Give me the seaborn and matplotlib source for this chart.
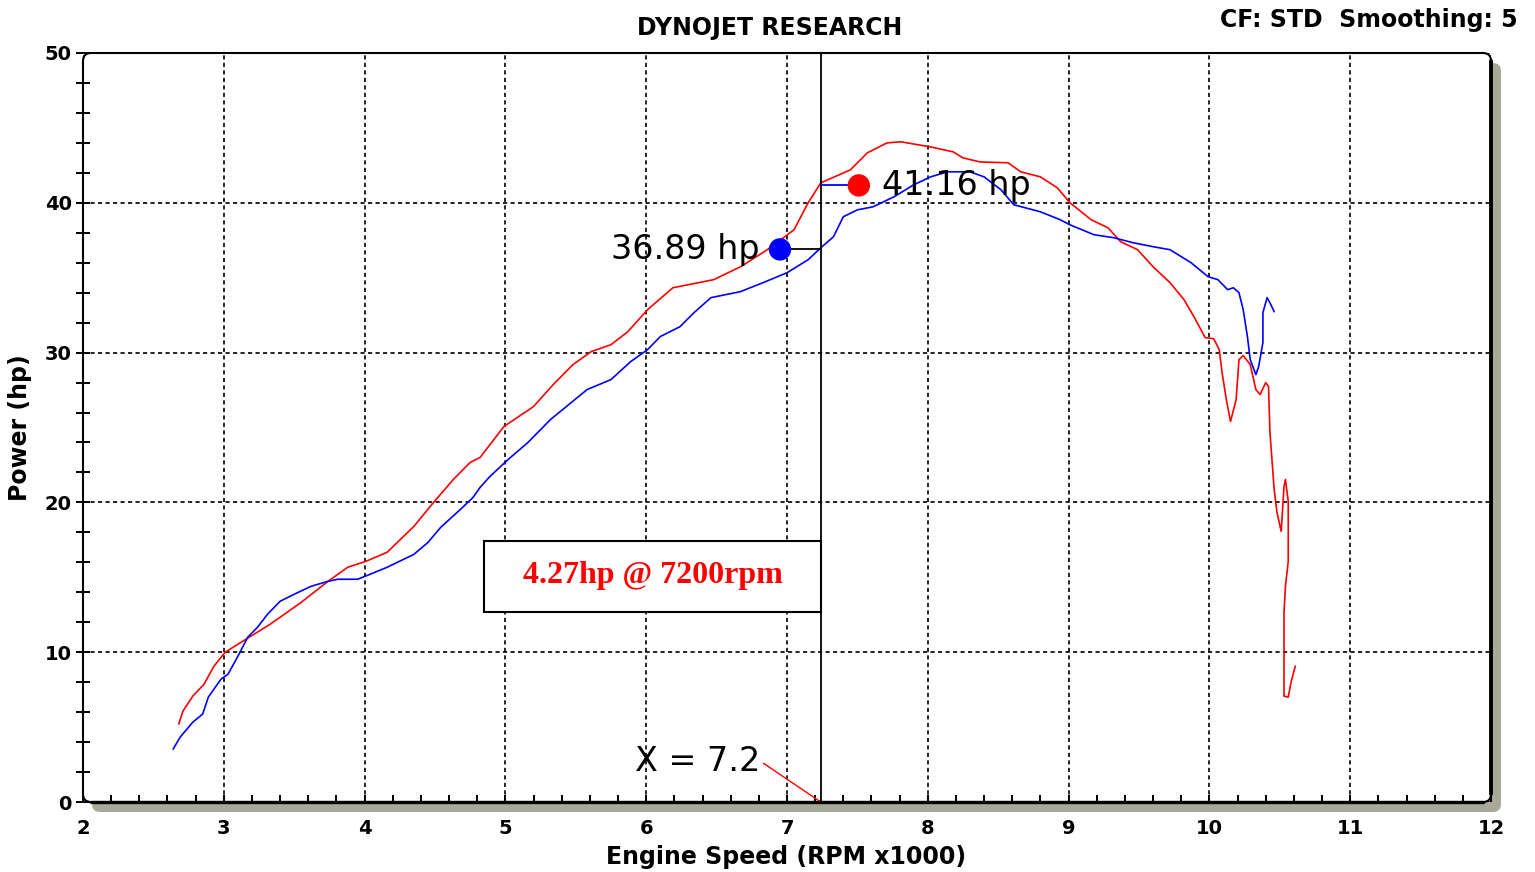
import pandas as pd
import matplotlib
matplotlib.use("Agg")
import matplotlib.pyplot as plt
import seaborn as sns
from matplotlib.patches import FancyBboxPatch, Rectangle
from matplotlib.lines import Line2D
from matplotlib.ticker import MultipleLocator

# Run 1 (red) - engine speed x1000 and power in hp
red_rpm = [2.68, 2.71, 2.78, 2.86, 2.93, 3.01, 3.18, 3.33, 3.55, 3.74, 3.88, 4.01, 4.16, 4.35,
           4.49, 4.63, 4.75, 4.82, 4.99, 5.20, 5.34, 5.48, 5.61, 5.75, 5.87, 6.01, 6.19, 6.48,
           6.67, 6.86, 7.05, 7.15, 7.24, 7.45, 7.57, 7.71, 7.81, 8.02, 8.18, 8.25, 8.37, 8.57,
           8.66, 8.80, 8.92, 9.01, 9.16, 9.28, 9.37, 9.49, 9.60, 9.72, 9.82, 9.89, 9.94, 9.97,
           10.03, 10.07, 10.09, 10.12, 10.15, 10.19, 10.21, 10.24, 10.29, 10.33, 10.36, 10.40,
           10.42, 10.43, 10.46, 10.48, 10.51, 10.53, 10.54, 10.56, 10.56, 10.54, 10.53, 10.53,
           10.56, 10.58, 10.61]
red_hp = [5.2, 6.07, 7.07, 7.87, 9.07, 10.0, 11.0, 11.87, 13.33, 14.73, 15.67, 16.07, 16.67, 18.4,
          20.0, 21.53, 22.67, 23.0, 25.07, 26.4, 27.87, 29.2, 30.07, 30.53, 31.4, 32.87, 34.33, 34.87,
          35.73, 36.87, 38.2, 40.0, 41.33, 42.2, 43.33, 44.0, 44.07, 43.73, 43.4, 43.0, 42.73, 42.67,
          42.07, 41.73, 41.0, 40.0, 38.87, 38.33, 37.4, 36.87, 35.73, 34.67, 33.53, 32.4, 31.53, 31.0,
          30.93, 30.2, 28.67, 26.87, 25.4, 26.87, 29.53, 29.8, 29.2, 27.53, 27.2, 28.0,
          27.73, 24.67, 20.87, 19.33, 18.07, 21.07, 21.53, 20.07, 16.07, 14.4, 12.67, 7.07,
          7.0, 8.0, 9.07]

# Run 2 (blue)
blue_rpm = [2.64, 2.69, 2.78, 2.85, 2.89, 2.98, 3.03, 3.10, 3.17, 3.24, 3.31, 3.40, 3.50, 3.62,
            3.74, 3.81, 3.95, 4.02, 4.16, 4.35, 4.45, 4.54, 4.68, 4.77, 4.82, 4.89, 5.02, 5.16,
            5.32, 5.58, 5.75, 5.89, 6.01, 6.10, 6.24, 6.34, 6.46, 6.67, 6.83, 7.00, 7.15, 7.24,
            7.33, 7.40, 7.50, 7.61, 7.76, 7.90, 8.02, 8.14, 8.30, 8.40, 8.52, 8.61, 8.80, 8.94,
            9.01, 9.18, 9.32, 9.46, 9.60, 9.72, 9.87, 9.99, 10.06, 10.13, 10.17, 10.21, 10.24,
            10.27, 10.29, 10.33, 10.35, 10.38, 10.38, 10.41, 10.43, 10.46]
blue_hp = [3.53, 4.33, 5.33, 5.87, 7.0, 8.2, 8.53, 9.73, 11.0, 11.67, 12.53, 13.4, 13.87, 14.4,
           14.73, 14.87, 14.87, 15.13, 15.67, 16.53, 17.33, 18.33, 19.53, 20.33, 21.0, 21.73, 22.87, 24.0,
           25.53, 27.53, 28.2, 29.4, 30.2, 31.07, 31.73, 32.67, 33.67, 34.07, 34.67, 35.33, 36.2, 37.0,
           37.73, 39.07, 39.53, 39.73, 40.4, 41.2, 41.73, 42.07, 42.07, 41.73, 40.87, 39.87, 39.4, 38.87,
           38.53, 37.87, 37.67, 37.33, 37.07, 36.87, 36.0, 35.07, 34.87, 34.2, 34.33, 34.0, 32.87,
           31.07, 29.53, 28.53, 29.07, 30.67, 32.67, 33.67, 33.33, 32.73]

# cursor readout
cursor_rpm = 7.24
marker_run = ["blue", "red"]
marker_rpm = [6.95, 7.51]
marker_hp = [36.89, 41.16]
marker_text = ["36.89 hp", "41.16 hp"]
gain_text = "4.27hp @ 7200rpm"
box_rpm = [4.85, cursor_rpm]
box_hp = [12.67, 17.4]

run_colors = {"red": "#ff0000", "blue": "#0000ff"}

df = pd.concat([
    pd.DataFrame({"rpm": red_rpm, "hp": red_hp, "run": "red"}),
    pd.DataFrame({"rpm": blue_rpm, "hp": blue_hp, "run": "blue"}),
], ignore_index=True)

sns.set_style("white")
plt.rcParams["font.family"] = ["DejaVu Sans"]
plt.rcParams["text.color"] = "black"

W, H = 1535, 872
fig = plt.figure(figsize=(W / 100, H / 100), dpi=100)
ax = fig.add_axes([83 / W, 70 / H, 1408 / W, 749 / H])
for s in ax.spines.values():
    s.set_visible(False)

# drop shadow + rounded frame, in figure inches
fig.add_artist(FancyBboxPatch((0.92, 0.60), 14.09, 7.49, boxstyle="round,pad=0,rounding_size=0.08",
                              transform=fig.dpi_scale_trans, facecolor="#a9a99a", edgecolor="none",
                              zorder=-1))
fig.add_artist(FancyBboxPatch((0.83, 0.70), 14.08, 7.49, boxstyle="round,pad=0,rounding_size=0.08",
                              transform=fig.dpi_scale_trans, facecolor="none", edgecolor="black",
                              linewidth=1.5, zorder=5))
fig.add_artist(Line2D([0.91, 14.83], [0.70, 0.70], transform=fig.dpi_scale_trans, color="black",
                      linewidth=2.4, zorder=5))
fig.add_artist(Line2D([14.91, 14.91], [0.78, 8.11], transform=fig.dpi_scale_trans, color="black",
                      linewidth=2.8, zorder=5))

sns.lineplot(data=df, x="rpm", y="hp", hue="run", palette=run_colors, sort=False, estimator=None,
             legend=False, linewidth=1.2, ax=ax, zorder=3)

ax.axvline(cursor_rpm, color="black", linewidth=1.3, zorder=4)

# connectors from cursor to the readout dots
ax.plot([marker_rpm[0], cursor_rpm], [marker_hp[0], marker_hp[0]], color="black", lw=1.3, zorder=4)
ax.plot([cursor_rpm, marker_rpm[1]], [marker_hp[1], marker_hp[1]], color="#0000ff", lw=1.3, zorder=4)
sns.scatterplot(x=marker_rpm, y=marker_hp, hue=marker_run, palette=run_colors, s=260, linewidth=0,
                legend=False, ax=ax, zorder=6)
ax.annotate(marker_text[0], xy=(marker_rpm[0], marker_hp[0]), xytext=(-15, 0), textcoords="offset points",
            ha="right", va="center", fontsize=24, color="black", zorder=7)
ax.annotate(marker_text[1], xy=(marker_rpm[1], marker_hp[1]), xytext=(17, 0), textcoords="offset points",
            ha="left", va="center", fontsize=24, color="black", zorder=7)

ax.annotate("X = 7.2", xy=(cursor_rpm, 0), xytext=(6.81, 2.73), ha="right", va="center", fontsize=24,
            color="black",
            arrowprops=dict(arrowstyle="-", color="red", lw=1.0, shrinkA=0, shrinkB=0, relpos=(1, 0.5)))

ax.add_patch(Rectangle((box_rpm[0], box_hp[0]), box_rpm[1] - box_rpm[0], box_hp[1] - box_hp[0],
                       facecolor="white", edgecolor="black", linewidth=1.5, zorder=4))
ax.text(sum(box_rpm) / 2, sum(box_hp) / 2 + 0.1, gain_text, ha="center", va="center", color="red",
        fontsize=23, fontweight="bold", family="Liberation Serif", zorder=5)

ax.set_xlim(2, 12)
ax.set_ylim(0, 50)
ax.xaxis.set_major_locator(MultipleLocator(1))
ax.xaxis.set_minor_locator(MultipleLocator(0.2))
ax.yaxis.set_major_locator(MultipleLocator(10))
ax.yaxis.set_minor_locator(MultipleLocator(2))
ax.grid(True, which="major", color="black", linestyle=(0, (2.5, 2)), linewidth=1.2)
ax.set_axisbelow(True)
ax.tick_params(axis="y", which="both", direction="inout", length=10, width=1.4, color="black",
               left=True, labelsize=14, pad=3, labelcolor="black")
ax.tick_params(axis="x", which="both", direction="in", length=5, width=1.4, color="black",
               bottom=True, labelsize=14, pad=12, labelcolor="black")
plt.setp(ax.get_xticklabels() + ax.get_yticklabels(), fontweight="bold")
ax.set_xlabel("")
ax.set_ylabel("")

fig.text(770 / W, 1 - 28 / H, "DYNOJET RESEARCH", ha="center", va="center", fontsize=17, fontweight="bold")
fig.text(1518 / W, 1 - 20 / H, "CF: STD  Smoothing: 5", ha="right", va="center", fontsize=17,
         fontweight="bold")
fig.text(786 / W, 1 - 857 / H, "Engine Speed (RPM x1000)", ha="center", va="center", fontsize=17,
         fontweight="bold")
fig.text(20 / W, 1 - 428 / H, "Power (hp)", ha="center", va="center", rotation=90, fontsize=17,
         fontweight="bold")

fig.savefig("out.png", dpi=100)
